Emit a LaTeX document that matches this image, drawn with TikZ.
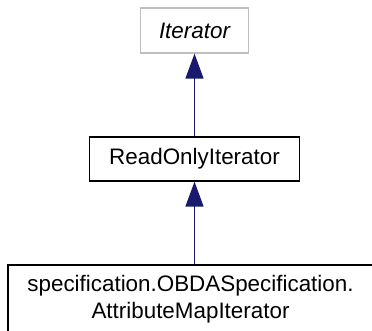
\documentclass[tikz,border=0pt]{standalone}
\usepackage{fontspec}
\setmainfont{Liberation Sans}
\usetikzlibrary{arrows.meta}
\definecolor{edgeblue}{HTML}{191970}
\definecolor{boxgrey}{HTML}{BFBFBF}
\tikzset{
  classbox/.style={draw=black, line width=1.3pt, fill=white, inner sep=0pt,
    align=center, font=\fontsize{22.4}{27}\selectfont},
  inherit/.style={draw=edgeblue, line width=1.5pt, -{Triangle[length=25pt,width=18pt]}}
}
\begin{document}
\begin{tikzpicture}[x=1pt,y=1pt]
    \useasboundingbox (0,0) rectangle (372,-331);

    % kelas-kelas
    \node[classbox, draw=boxgrey, minimum width=108pt, minimum height=45pt,
      font=\fontsize{22.4}{27}\selectfont\itshape] (iterator) at (194.5,-30.5) {Iterator};
    \node[classbox, minimum width=210pt, minimum height=44pt] (readonly) at (194.5,-159) {ReadOnlyIterator};
    \node[classbox, minimum width=365pt, minimum height=68pt] (attrmap) at (190.5,-299)
      {specification.OBDASpecification.\\AttributeMapIterator};

    % pewarisan
    \draw[inherit] (readonly) -- (iterator);
    \draw[inherit] (attrmap.north -| readonly) -- (readonly);
\end{tikzpicture}
\end{document}
